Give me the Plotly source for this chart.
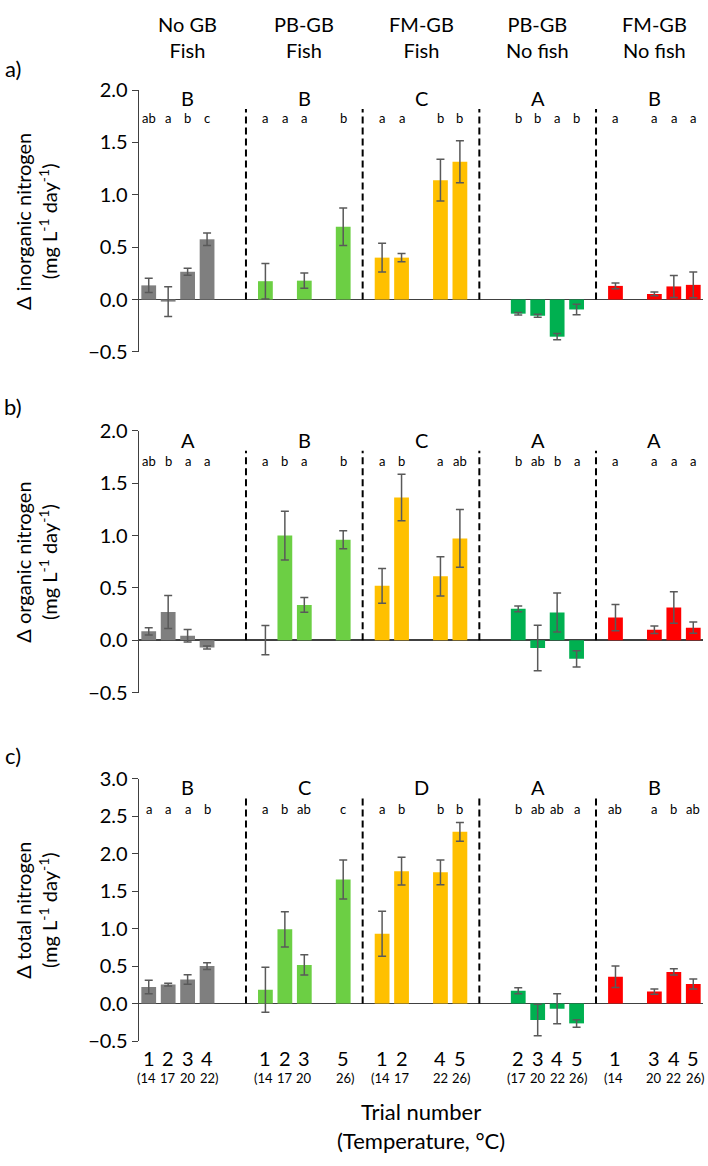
import plotly.graph_objects as go

# ---------------- data ----------------
groups = ["No GB<br>Fish", "PB-GB<br>Fish", "FM-GB<br>Fish", "PB-GB<br>No fish", "FM-GB<br>No fish"]
colors = ["#7F7F7F", "#6CCF44", "#FFC000", "#00B050", "#FF0000"]
trials = [[1, 2, 3, 4], [1, 2, 3, 5], [1, 2, 4, 5], [2, 3, 4, 5], [1, 3, 4, 5]]
temps = {1: "14", 2: "17", 3: "20", 4: "22", 5: "26"}

inorg_mean = [[0.135, -0.02, 0.265, 0.575], [0.175, None, 0.18, 0.695], [0.40, 0.40, 1.14, 1.315],
              [-0.135, -0.155, -0.355, -0.095], [0.13, 0.053, 0.125, 0.14]]
inorg_err = [[0.068, 0.143, 0.033, 0.06], [0.17, None, 0.073, 0.18], [0.137, 0.04, 0.2, 0.2],
             [0.012, 0.015, 0.03, 0.05], [0.027, 0.018, 0.105, 0.123]]

org_mean = [[0.085, 0.27, 0.043, -0.07], [0.0, 1.0, 0.337, 0.96], [0.52, 1.363, 0.61, 0.973],
            [0.30, -0.075, 0.265, -0.178], [0.216, 0.10, 0.313, 0.12]]
org_err = [[0.035, 0.157, 0.06, 0.015], [0.14, 0.233, 0.07, 0.085], [0.166, 0.222, 0.187, 0.276],
           [0.028, 0.218, 0.187, 0.078], [0.126, 0.036, 0.151, 0.053]]

tot_mean = [[0.22, 0.252, 0.32, 0.5], [0.183, 0.99, 0.515, 1.655], [0.93, 1.765, 1.75, 2.29],
            [0.17, -0.22, -0.07, -0.265], [0.356, 0.16, 0.422, 0.26]]
tot_err = [[0.09, 0.017, 0.063, 0.045], [0.30, 0.235, 0.134, 0.26], [0.30, 0.185, 0.165, 0.124],
           [0.04, 0.21, 0.2, 0.05], [0.143, 0.035, 0.043, 0.067]]

inorg_big = ["B", "B", "C", "A", "B"]
inorg_small = [["ab", "a", "b", "c"], ["a", "a", "a", "b"], ["a", "a", "b", "b"], ["b", "b", "a", "b"], ["a", "a", "a", "a"]]
org_big = ["A", "B", "C", "A", "A"]
org_small = [["ab", "b", "a", "a"], ["a", "b", "a", "b"], ["a", "b", "a", "ab"], ["b", "ab", "b", "a"], ["a", "a", "a", "a"]]
tot_big = ["B", "C", "D", "A", "B"]
tot_small = [["a", "a", "a", "b"], ["a", "b", "ab", "c"], ["a", "b", "b", "b"], ["b", "ab", "ab", "a"], ["ab", "a", "b", "ab"]]

panel_labels = ["a)", "b)", "c)"]
ytitles = ["Δ inorganic nitrogen<br>(mg L<sup>-1</sup> day<sup>-1</sup>)",
           "Δ organic nitrogen<br>(mg L<sup>-1</sup> day<sup>-1</sup>)",
           "Δ total nitrogen<br>(mg L<sup>-1</sup> day<sup>-1</sup>)"]
xtitle = "Trial number<br>(Temperature, °C)"

# ---------------- layout geometry ----------------
W, H = 708, 1166
ML, MR = 139, 5
SLOTS = 6
FONT = "Lato, Carlito, Calibri, sans-serif"


def py(px):
    return 1 - px / H


panels = [
    dict(mean=inorg_mean, err=inorg_err, big=inorg_big, small=inorg_small,
         dom=(346.0, 78.7), yr=(-0.5, 2.0), ybig=1.92, ysmall=1.73, ydash=1.82),
    dict(mean=org_mean, err=org_err, big=org_big, small=org_small,
         dom=(693.8, 426.7), yr=(-0.5, 2.0), ybig=1.91, ysmall=1.71, ydash=1.81),
    dict(mean=tot_mean, err=tot_err, big=tot_big, small=tot_small,
         dom=(1049.6, 781.7), yr=(-0.5, 3.0), ybig=2.89, ysmall=2.60, ydash=2.74),
]

fig = go.Figure()
annotations = []
shapes = []
layout = {}

for p, pan in enumerate(panels):
    xa = "x" if p == 0 else f"x{p+1}"
    ya = "y" if p == 0 else f"y{p+1}"
    xkey = "xaxis" if p == 0 else f"xaxis{p+1}"
    ykey = "yaxis" if p == 0 else f"yaxis{p+1}"
    for g in range(5):
        xs, ys, es = [], [], []
        for t, m, e in zip(trials[g], pan["mean"][g], pan["err"][g]):
            if m is None:
                continue
            xs.append(g * SLOTS + t - 1)
            ys.append(m)
            es.append(e)
        fig.add_trace(go.Bar(
            x=xs, y=ys, xaxis=xa, yaxis=ya, width=0.76,
            marker=dict(color=colors[g], line=dict(width=0)),
            error_y=dict(type="data", array=es, visible=True, color="#595959", thickness=1.5, width=4),
            showlegend=False, hoverinfo="skip"))
        annotations.append(dict(x=g * SLOTS + 2, y=pan["ybig"], xref=xa, yref=ya, text=pan["big"][g],
                                showarrow=False, font=dict(family=FONT, size=20, color="black"),
                                xanchor="center", yanchor="middle"))
        for t, s in zip(trials[g], pan["small"][g]):
            annotations.append(dict(x=g * SLOTS + t - 1, y=pan["ysmall"], xref=xa, yref=ya, text=s,
                                    showarrow=False, font=dict(family=FONT, size=13, color="black"),
                                    xanchor="center", yanchor="middle"))
        if g < 4:
            shapes.append(dict(type="line", xref=xa, yref=ya, x0=g * SLOTS + 5, x1=g * SLOTS + 5,
                               y0=0, y1=pan["ydash"], line=dict(color="black", width=2, dash="7px,4px")))
    y0p, y1p = py(pan["dom"][0]), py(pan["dom"][1])
    layout[xkey] = dict(domain=[0, 1], range=[-0.5, SLOTS * 5 - 1 - 0.5], anchor=ya, showticklabels=False,
                        showgrid=False, zeroline=False, showline=False, ticks="", fixedrange=True)
    layout[ykey] = dict(domain=[y0p, y1p], range=list(pan["yr"]), anchor=xa, dtick=0.5, tickformat=".1f",
                        showgrid=False, zeroline=True, zerolinecolor="#404040", zerolinewidth=1.5,
                        showline=True, linecolor="#404040", linewidth=1.3, ticks="outside", ticklen=6,
                        tickcolor="#404040", tickfont=dict(family=FONT, size=20, color="black"))
    annotations.append(dict(x=(13 - ML) / (W - ML - MR), y=py([57, 402, 758][p]), xref="paper", yref="paper",
                            text=panel_labels[p], showarrow=False, xanchor="center", yanchor="middle",
                            font=dict(family=FONT, size=22, color="black")))
    ymid = (pan["dom"][0] + pan["dom"][1]) / 2
    annotations.append(dict(x=(36 - ML) / (W - ML - MR), y=py(ymid), xref="paper", yref="paper",
                            text=ytitles[p], textangle=-90, showarrow=False, xanchor="center", yanchor="middle",
                            font=dict(family=FONT, size=20, color="black")))

for g in range(5):
    annotations.append(dict(x=g * SLOTS + 2, y=py(24), xref="x", yref="paper", text=groups[g],
                            showarrow=False, xanchor="center", yanchor="middle",
                            font=dict(family=FONT, size=20, color="black")))
    n = len(trials[g])
    for i, t in enumerate(trials[g]):
        annotations.append(dict(x=g * SLOTS + t - 1, y=py(1066.7), xref="x3", yref="paper", text=str(t),
                                showarrow=False, xanchor="center", yanchor="middle",
                                font=dict(family=FONT, size=20, color="black")))
        txt = temps[t]
        shift = 0
        if i == 0:
            txt = "(" + txt
            shift -= 2
        if i == n - 1:
            txt = txt + ")"
            shift += 2
        annotations.append(dict(x=g * SLOTS + t - 1, y=py(1087.3), xref="x3", yref="paper", text=txt,
                                xshift=shift, showarrow=False, xanchor="center", yanchor="middle",
                                font=dict(family=FONT, size=13, color="black")))

annotations.append(dict(x=0.5, y=py(1136.7), xref="paper", yref="paper", text=xtitle, showarrow=False,
                        xanchor="center", yanchor="middle", font=dict(family=FONT, size=22, color="black")))

fig.update_layout(width=W, height=H, margin=dict(l=ML, r=MR, t=0, b=0), plot_bgcolor="white",
                  paper_bgcolor="white", barmode="overlay", annotations=annotations, shapes=shapes,
                  font=dict(family=FONT, color="black"), **layout)

fig.write_html("out.html", config={"displayModeBar": False, "staticPlot": True},
               post_script="document.body.style.margin='0';document.body.style.overflow='hidden';"
                           "document.documentElement.style.overflow='hidden';")
